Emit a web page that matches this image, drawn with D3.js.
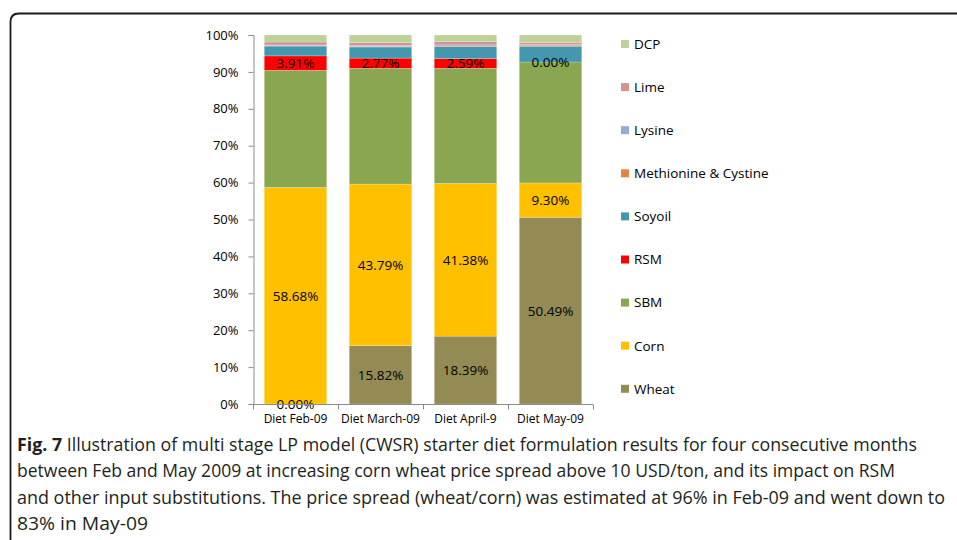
<!DOCTYPE html>
<html><head><meta charset="utf-8">
<script src="https://cdn.jsdelivr.net/npm/d3@7/dist/d3.min.js"></script>
<style>body{margin:0;background:#fff}svg{display:block}</style>
</head><body>
<svg id="c" width="957" height="540"></svg>
<script>
const categories = ["Diet Feb-09", "Diet March-09", "Diet April-9", "Diet May-09"];
const seriesNames = ["Wheat", "Corn", "SBM", "RSM", "Soyoil", "Methionine & Cystine", "Lysine", "Lime", "DCP"];
const wheat   = [0.00, 15.82, 18.39, 50.49];
const corn    = [58.68, 43.79, 41.38, 9.30];
const sbm     = [31.75, 31.37, 31.21, 32.71];
const rsm     = [3.91, 2.77, 2.59, 0.00];
const soyoil  = [2.66, 3.00, 3.30, 4.25];
const methionine = [0.10, 0.15, 0.15, 0.30];
const lysine  = [0.20, 0.25, 0.30, 0.20];
const lime    = [0.80, 0.80, 0.85, 0.55];
const dcp     = [1.90, 2.06, 1.83, 2.00];
const labelled = ["Wheat", "Corn", "RSM"];
const yTicks = [0, 10, 20, 30, 40, 50, 60, 70, 80, 90, 100];
const captionBold = "Fig. 7";
const captionLines = [
  " Illustration of multi stage LP model (CWSR) starter diet formulation results for four consecutive months",
  "between Feb and May 2009 at increasing corn wheat price spread above 10 USD/ton, and its impact on RSM",
  "and other input substitutions. The price spread (wheat/corn) was estimated at 96% in Feb-09 and went down to",
  "83% in May-09"
];

const colors = {
  "Wheat": "#948A54", "Corn": "#FFC000", "SBM": "#8BA650", "RSM": "#FF0000",
  "Soyoil": "#4398AF", "Methionine & Cystine": "#E3843F", "Lysine": "#94ABD2",
  "Lime": "#D59290", "DCP": "#BDD199"
};
const valuesBy = {"Wheat": wheat, "Corn": corn, "SBM": sbm, "RSM": rsm, "Soyoil": soyoil,
  "Methionine & Cystine": methionine, "Lysine": lysine, "Lime": lime, "DCP": dcp};

const rows = categories.map((c, i) => {
  const r = {cat: c};
  seriesNames.forEach(s => r[s] = valuesBy[s][i]);
  return r;
});
const stack = d3.stack().keys(seriesNames).offset(d3.stackOffsetExpand)(rows);

const svg = d3.select("#c");
const font = "Open Sans, sans-serif";

// frame
svg.append("path")
  .attr("d", "M10.5,541 L10.5,22 Q10.5,13.5 19,13.5 L960,13.5")
  .attr("fill", "none").attr("stroke", "#1a1a1a").attr("stroke-width", 1.8);

const x = d3.scaleBand().domain(categories).range([253, 593]).paddingInner(0.265).paddingOuter(0.1325);
const y = d3.scaleLinear().domain([0, 1]).range([404, 35]);

const g = svg.append("g");
stack.forEach(layer => {
  g.selectAll(null).data(layer).enter().append("rect")
    .attr("x", d => x(d.data.cat))
    .attr("width", x.bandwidth())
    .attr("y", d => y(d[1]))
    .attr("height", d => Math.max(0, y(d[0]) - y(d[1])))
    .attr("fill", colors[layer.key])
    .attr("stroke", "#ffffff").attr("stroke-opacity", 0.35).attr("stroke-width", 0.6);
});

// labels
stack.filter(l => labelled.includes(l.key)).forEach(layer => {
  g.selectAll(null).data(layer).enter().append("text")
    .attr("x", d => x(d.data.cat) + x.bandwidth() / 2)
    .attr("y", d => (y(d[0]) + y(d[1])) / 2)
    .attr("dy", "0.36em")
    .attr("text-anchor", "middle")
    .attr("font-family", font).attr("font-size", 13.5).attr("fill", "#000")
    .text(d => valuesBy[layer.key][categories.indexOf(d.data.cat)].toFixed(2) + "%");
});

// y axis
const yAxis = d3.axisLeft(d3.scaleLinear().domain([0, 100]).range([404, 35]))
  .tickValues(yTicks).tickFormat(d => d + "%").tickSizeOuter(0).tickSize(5).tickPadding(10);
const ya = svg.append("g").attr("transform", "translate(253.5,0)").call(yAxis);
ya.selectAll("path,line").attr("stroke", "#8c8c8c");
ya.selectAll("text").attr("font-family", font).attr("font-size", 13).attr("fill", "#000");

// x axis
const xa = svg.append("g").attr("transform", "translate(0,404.5)");
xa.append("line").attr("x1", 253).attr("x2", 593).attr("stroke", "#8c8c8c");
const bounds = d3.range(categories.length + 1).map(i => 253 + i * (340 / categories.length));
xa.selectAll(null).data(bounds).enter().append("line")
  .attr("x1", d => d + 0.5).attr("x2", d => d + 0.5).attr("y1", 0).attr("y2", 5).attr("stroke", "#8c8c8c");
xa.selectAll(null).data(categories).enter().append("text")
  .attr("x", d => x(d) + x.bandwidth() / 2).attr("y", 18)
  .attr("text-anchor", "middle").attr("font-family", font).attr("font-size", 12).attr("fill", "#000")
  .text(d => d);

// legend
const legendOrder = seriesNames.slice().reverse();
const lg = svg.append("g");
legendOrder.forEach((s, i) => {
  const cy = 44 + i * 43.1;
  lg.append("rect").attr("x", 621).attr("y", cy - 4).attr("width", 8).attr("height", 8).attr("fill", colors[s]);
  lg.append("text").attr("x", 634).attr("y", cy).attr("dy", "0.36em")
    .attr("font-family", font).attr("font-size", 13.5).attr("fill", "#000").text(s);
});

// caption
const capWidths = [900, 878, 928, 131];
const cap = svg.append("g").attr("font-family", font).attr("font-size", 18).attr("fill", "#231f20");
captionLines.forEach((line, i) => {
  const t = cap.append("text").attr("x", 17).attr("y", 451 + i * 26.3)
    .attr("textLength", capWidths[i]).attr("lengthAdjust", "spacingAndGlyphs");
  if (i === 0) {
    t.append("tspan").attr("font-weight", "bold").text(captionBold);
    t.append("tspan").text(line);
  } else {
    t.text(line);
  }
});
</script>
</body></html>
